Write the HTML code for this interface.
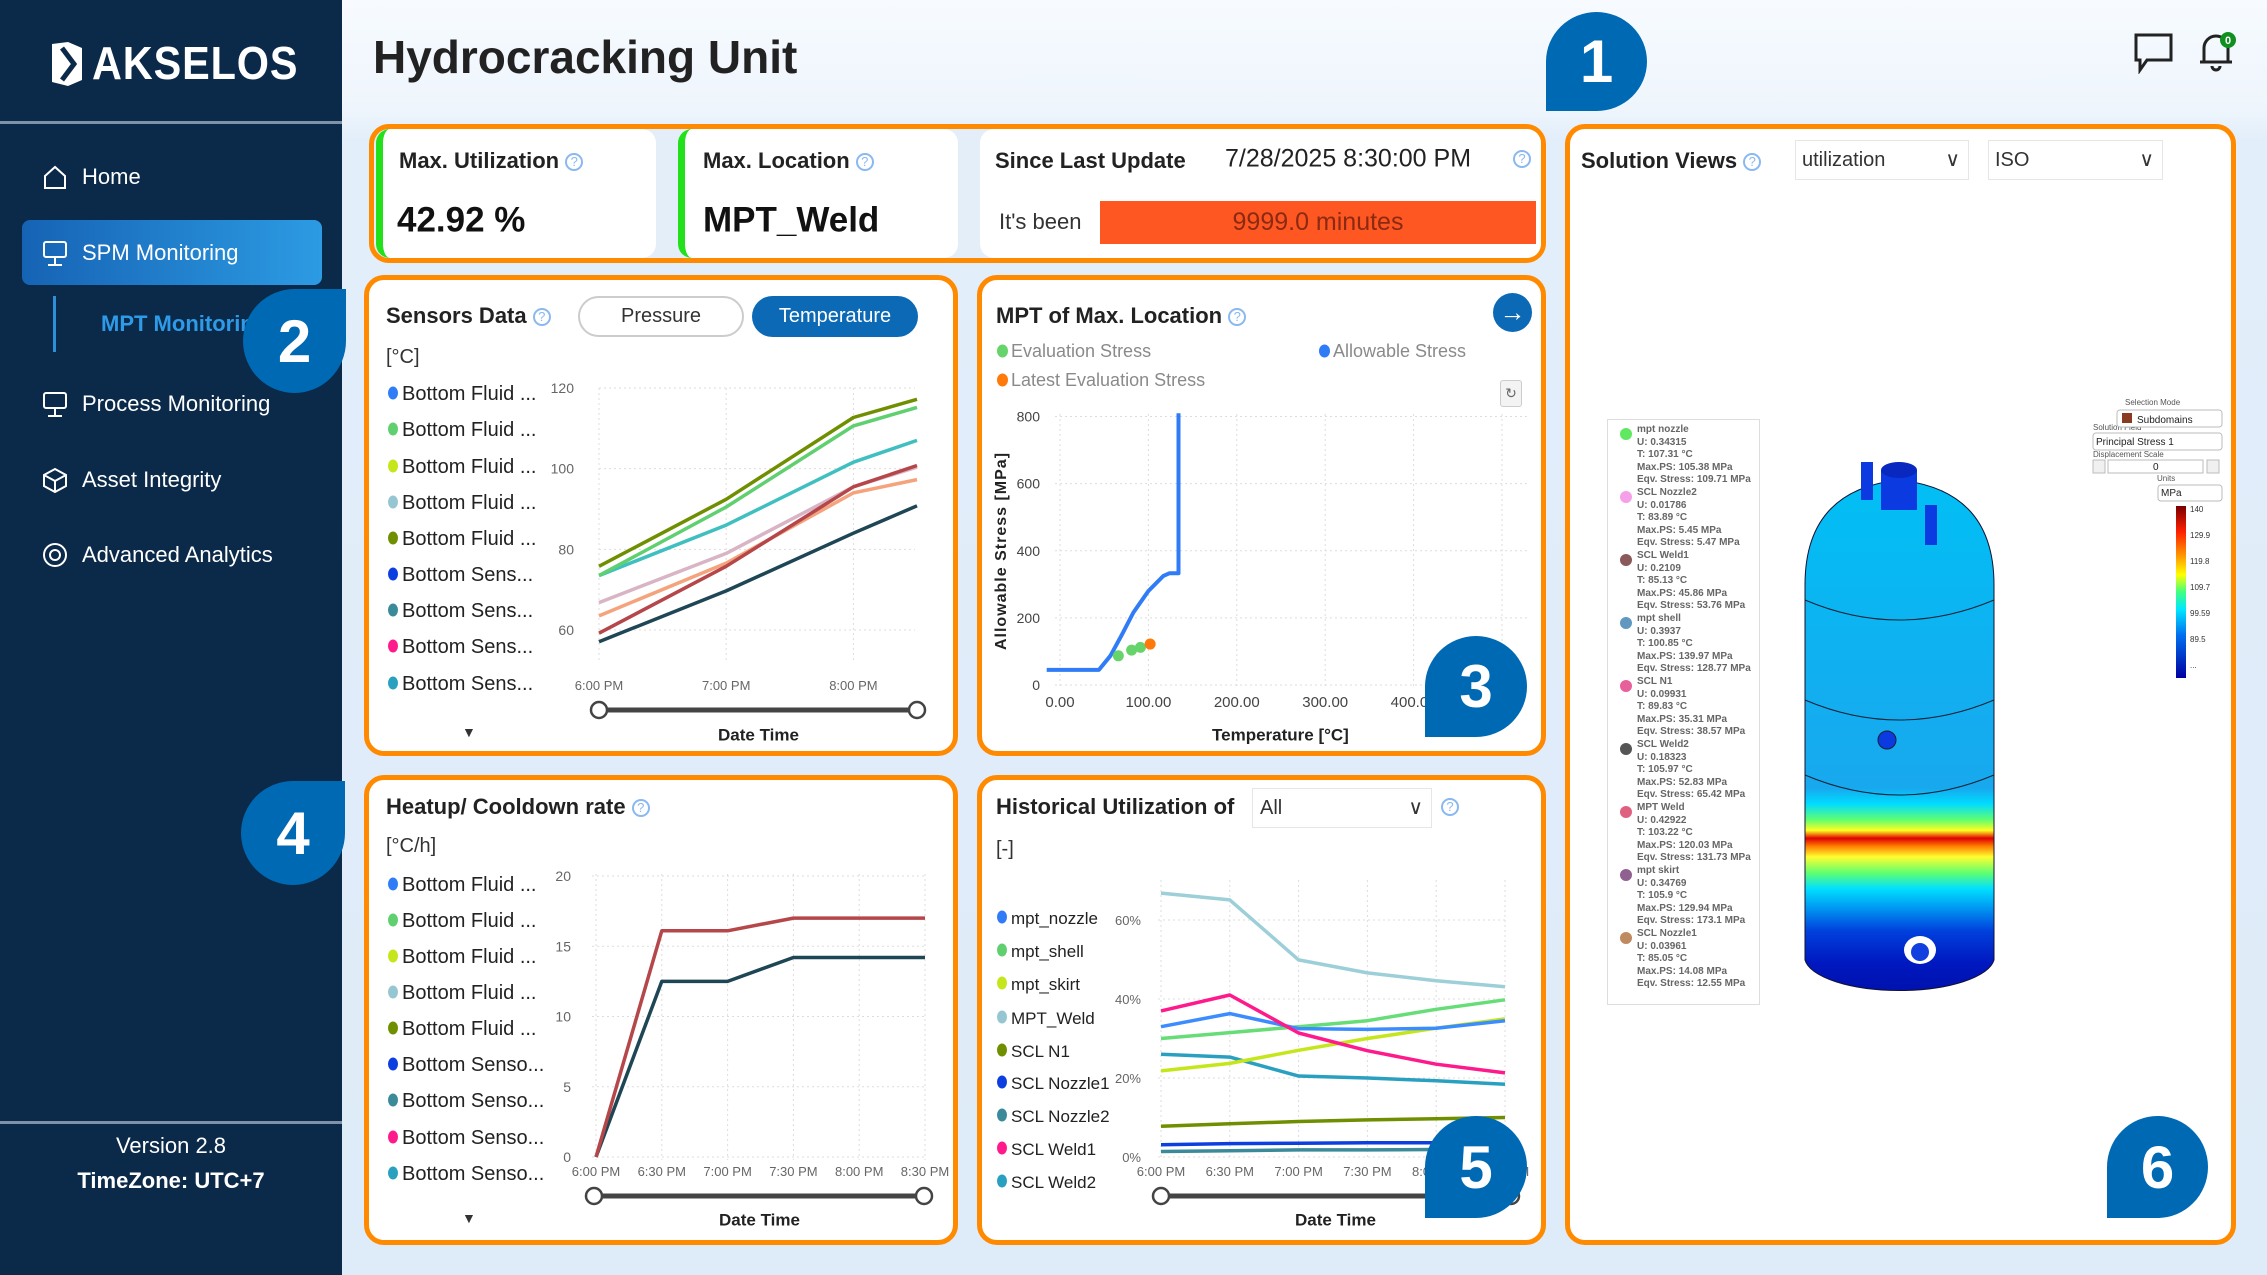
<!DOCTYPE html>
<html><head><meta charset="utf-8">
<style>
*{box-sizing:border-box;margin:0;padding:0}
body{width:2267px;height:1275px;position:relative;overflow:hidden;font-family:"Liberation Sans",sans-serif;background:linear-gradient(#f7fbff 0,#eef5fc 110px,#e2eefa 140px,#deebf8 100%)}
.t{position:absolute;white-space:nowrap;transform:translateY(-50%);line-height:1}
.b{font-weight:bold}
.abs{position:absolute}
.og{position:absolute;border:5px solid #ff8a00;border-radius:20px;background:#fff}
.q{display:inline-block;width:18px;height:18px;border:2px solid #8ab8f0;border-radius:50%;color:#8ab8f0;font-size:13px;text-align:center;line-height:14px;font-weight:normal;vertical-align:middle}
.dot{position:absolute;width:11px;height:13px;border-radius:50%;transform:translateY(-50%)}
.badge{position:absolute;background:#0069b4;color:#fff;font-weight:bold;font-size:60px;display:flex;align-items:center;justify-content:center}
.side{color:#fff;font-size:22px}
.lg{font-size:20px;color:#222}
.sel{position:absolute;border:1px solid #e6e6e6;background:#fff;font-size:20px;color:#333}
svg text{font-family:"Liberation Sans",sans-serif}
</style></head><body>

<!-- Sidebar -->
<div class="abs" style="left:0;top:0;width:342px;height:1275px;background:#0b2949"></div>
<div class="abs" style="left:0;top:121px;width:342px;height:3px;background:#7f92a8"></div>
<svg class="abs" style="left:48px;top:40px" width="40" height="48" viewBox="0 0 40 48"><path d="M4 4 L20 2 L34 8 L34 40 L20 46 L4 42 Z" fill="#fff"/><path d="M14 8 L26 24 L14 40" stroke="#0b2949" stroke-width="5" fill="none"/></svg>
<div class="t b" style="left:92px;top:63px;font-size:46px;color:#fff;letter-spacing:1px;transform:translateY(-50%) scaleX(0.9);transform-origin:left">AKSELOS</div>

<svg class="abs" style="left:42px;top:164px" width="26" height="26"><path d="M3 12 L13 3 L23 12 L23 24 L3 24 Z" stroke="#fff" stroke-width="2" fill="none"/></svg>
<div class="t side" style="left:82px;top:177px">Home</div>
<div class="abs" style="left:22px;top:220px;width:300px;height:65px;border-radius:8px;background:linear-gradient(90deg,#1663b4,#2c9be3)"></div>
<svg class="abs" style="left:42px;top:240px" width="26" height="28"><rect x="2" y="2" width="22" height="15" rx="2" stroke="#fff" stroke-width="2" fill="none"/><path d="M13 17 V25 M6 25 H20" stroke="#fff" stroke-width="2"/></svg>
<div class="t side" style="left:82px;top:253px">SPM Monitoring</div>
<div class="abs" style="left:53px;top:296px;width:3px;height:56px;background:#2c8fd8"></div>
<div class="t side b" style="left:101px;top:324px;color:#2e9be8">MPT Monitoring</div>
<svg class="abs" style="left:42px;top:391px" width="26" height="28"><rect x="2" y="2" width="22" height="15" rx="2" stroke="#fff" stroke-width="2" fill="none"/><path d="M13 17 V25 M6 25 H20" stroke="#fff" stroke-width="2"/></svg>
<div class="t side" style="left:82px;top:404px">Process Monitoring</div>
<svg class="abs" style="left:42px;top:467px" width="26" height="26"><path d="M13 2 L24 8 L24 19 L13 25 L2 19 L2 8 Z M2 8 L13 14 L24 8 M13 14 V25" stroke="#fff" stroke-width="2" fill="none"/></svg>
<div class="t side" style="left:82px;top:480px">Asset Integrity</div>
<svg class="abs" style="left:42px;top:542px" width="26" height="26"><circle cx="13" cy="13" r="11" stroke="#fff" stroke-width="2" fill="none"/><circle cx="13" cy="13" r="5" stroke="#fff" stroke-width="2" fill="none"/></svg>
<div class="t side" style="left:82px;top:555px">Advanced Analytics</div>
<div class="abs" style="left:0;top:1121px;width:342px;height:3px;background:#7f92a8"></div>
<div class="t" style="left:0;width:342px;text-align:center;top:1146px;font-size:22px;color:#fff">Version 2.8</div>
<div class="t b" style="left:0;width:342px;text-align:center;top:1181px;font-size:22px;color:#fff">TimeZone: UTC+7</div>

<!-- Header -->
<div class="t b" style="left:373px;top:57px;font-size:46px;color:#222">Hydrocracking Unit</div>
<svg class="abs" style="left:2133px;top:32px" width="42" height="42"><path d="M3 3 H38 V28 H14 L7 38 V28 H3 Z" stroke="#222" stroke-width="3" fill="none"/></svg>
<svg class="abs" style="left:2196px;top:28px" width="42" height="48"><path d="M8 34 V20 A12 12 0 0 1 32 20 V34 Z M4 34 H36 M16 38 A4 4 0 0 0 24 38" stroke="#222" stroke-width="3" fill="none"/><circle cx="32" cy="12" r="8" fill="#109020"/><text x="32" y="16" font-size="11" fill="#fff" text-anchor="middle" font-weight="bold">0</text></svg>

<!-- KPI group -->
<div class="og" style="left:369px;top:124px;width:1177px;height:139px;background:#e4eef9"></div>
<div class="abs" style="left:376px;top:129px;width:280px;height:129px;background:#fff;border-radius:14px;border-left:7px solid #22e01a"></div>
<div class="t b" style="left:399px;top:161px;font-size:22px;color:#222">Max. Utilization <span class="q">?</span></div>
<div class="t b" style="left:397px;top:220px;font-size:35px;color:#111">42.92 %</div>
<div class="abs" style="left:678px;top:129px;width:280px;height:129px;background:#fff;border-radius:14px;border-left:7px solid #22e01a"></div>
<div class="t b" style="left:703px;top:161px;font-size:22px;color:#222">Max. Location <span class="q">?</span></div>
<div class="t b" style="left:703px;top:220px;font-size:35px;color:#111">MPT_Weld</div>
<div class="abs" style="left:980px;top:129px;width:561px;height:129px;background:#fff;border-radius:14px"></div>
<div class="t b" style="left:995px;top:161px;font-size:22px;color:#222">Since Last Update</div>
<div class="t" style="left:1225px;top:159px;font-size:25px;color:#222">7/28/2025 8:30:00 PM</div>
<div class="t" style="left:1513px;top:159px"><span class="q">?</span></div>
<div class="t" style="left:999px;top:222px;font-size:22px;color:#333">It's been</div>
<div class="abs" style="left:1100px;top:201px;width:436px;height:43px;background:#ff5722;color:#8a2a12;font-size:25px;text-align:center;line-height:43px">9999.0 minutes</div>

<!-- Panels -->
<div class="og" style="left:364px;top:275px;width:594px;height:481px"></div>
<div class="og" style="left:977px;top:275px;width:569px;height:481px"></div>
<div class="og" style="left:364px;top:775px;width:594px;height:470px"></div>
<div class="og" style="left:977px;top:775px;width:569px;height:470px"></div>
<div class="og" style="left:1565px;top:124px;width:671px;height:1121px"></div>

<!-- Sensors panel content -->
<div class="t b" style="left:386px;top:316px;font-size:22px;color:#222">Sensors Data <span class="q">?</span></div>
<div class="abs" style="left:578px;top:296px;width:166px;height:41px;border:2px solid #ccc;border-radius:21px;font-size:20px;text-align:center;line-height:37px;color:#333">Pressure</div>
<div class="abs" style="left:752px;top:296px;width:166px;height:41px;background:#0b69b5;border-radius:21px;font-size:20px;text-align:center;line-height:41px;color:#fff">Temperature</div>
<div class="t" style="left:386px;top:357px;font-size:20px;color:#333">[°C]</div>
<div class="t" style="left:462px;top:732px;font-size:14px;color:#333">▼</div>
<div class="t b" style="left:718px;top:735px;font-size:17px;color:#222">Date Time</div>

<!-- MPT panel content -->
<div class="t b" style="left:996px;top:316px;font-size:22px;color:#222">MPT of Max. Location <span class="q">?</span></div>
<div class="abs" style="left:1493px;top:293px;width:39px;height:39px;border-radius:50%;background:#0b69b5;color:#fff;font-size:26px;text-align:center;line-height:38px;font-weight:bold">→</div>
<div class="dot" style="left:997px;top:351px;background:#66d46a"></div>
<div class="t" style="left:1011px;top:351px;font-size:18px;color:#8a8a8a">Evaluation Stress</div>
<div class="dot" style="left:1319px;top:351px;background:#2f7cf6"></div>
<div class="t" style="left:1333px;top:351px;font-size:18px;color:#8a8a8a">Allowable Stress</div>
<div class="dot" style="left:997px;top:380px;background:#ff7a0a"></div>
<div class="t" style="left:1011px;top:380px;font-size:18px;color:#8a8a8a">Latest Evaluation Stress</div>
<div class="abs" style="left:1500px;top:380px;width:22px;height:27px;border:1px solid #ccc;border-radius:3px;background:#f3f3f3;font-size:14px;text-align:center;line-height:25px;color:#666">↻</div>
<div class="t b" style="left:1212px;top:735px;font-size:17px;color:#222">Temperature [°C]</div>
<div class="abs b" style="left:1002px;top:551px;font-size:16px;color:#222;white-space:nowrap;transform:translate(-50%,-50%) rotate(-90deg);letter-spacing:1px">Allowable Stress [MPa]</div>

<!-- Heatup panel content -->
<div class="t b" style="left:386px;top:807px;font-size:22px;color:#222">Heatup/ Cooldown rate <span class="q">?</span></div>
<div class="t" style="left:386px;top:846px;font-size:20px;color:#333">[°C/h]</div>
<div class="t" style="left:462px;top:1218px;font-size:14px;color:#333">▼</div>
<div class="t b" style="left:719px;top:1220px;font-size:17px;color:#222">Date Time</div>

<!-- Historical panel content -->
<div class="t b" style="left:996px;top:807px;font-size:22px;color:#222">Historical Utilization of</div>
<div class="sel" style="left:1252px;top:788px;width:180px;height:40px;line-height:38px;padding-left:7px">All<span style="position:absolute;right:8px;top:0;font-size:20px">∨</span></div>
<div class="t" style="left:1441px;top:807px"><span class="q">?</span></div>
<div class="t" style="left:996px;top:849px;font-size:20px;color:#333">[-]</div>
<div class="t b" style="left:1295px;top:1220px;font-size:17px;color:#222">Date Time</div>

<!-- Solution views -->
<div class="t b" style="left:1581px;top:161px;font-size:22px;color:#222">Solution Views <span class="q">?</span></div>
<div class="sel" style="left:1795px;top:140px;width:174px;height:40px;line-height:38px;padding-left:6px">utilization<span style="position:absolute;right:8px;top:0">∨</span></div>
<div class="sel" style="left:1988px;top:140px;width:175px;height:40px;line-height:38px;padding-left:6px">ISO<span style="position:absolute;right:8px;top:0">∨</span></div>

<div class="abs" style="left:1607px;top:419px;width:153px;height:586px;border:1px solid #ddd;background:#fff;font-size:10px;font-weight:bold;color:#666;line-height:12.6px">
<div style="position:absolute;left:12px;top:8px;width:12px;height:12px;border-radius:50%;background:#5fe860"></div><div style="position:absolute;left:29px;top:4px">mpt nozzle<br>U: 0.34315<br>T: 107.31 °C<br>Max.PS: 105.38 MPa<br>Eqv. Stress: 109.71 MPa</div>
<div style="position:absolute;left:12px;top:71px;width:12px;height:12px;border-radius:50%;background:#f5a0e8"></div><div style="position:absolute;left:29px;top:67px">SCL Nozzle2<br>U: 0.01786<br>T: 83.89 °C<br>Max.PS: 5.45 MPa<br>Eqv. Stress: 5.47 MPa</div>
<div style="position:absolute;left:12px;top:134px;width:12px;height:12px;border-radius:50%;background:#8a5a5a"></div><div style="position:absolute;left:29px;top:130px">SCL Weld1<br>U: 0.2109<br>T: 85.13 °C<br>Max.PS: 45.86 MPa<br>Eqv. Stress: 53.76 MPa</div>
<div style="position:absolute;left:12px;top:197px;width:12px;height:12px;border-radius:50%;background:#6098c0"></div><div style="position:absolute;left:29px;top:193px">mpt shell<br>U: 0.3937<br>T: 100.85 °C<br>Max.PS: 139.97 MPa<br>Eqv. Stress: 128.77 MPa</div>
<div style="position:absolute;left:12px;top:260px;width:12px;height:12px;border-radius:50%;background:#e8609a"></div><div style="position:absolute;left:29px;top:256px">SCL N1<br>U: 0.09931<br>T: 89.83 °C<br>Max.PS: 35.31 MPa<br>Eqv. Stress: 38.57 MPa</div>
<div style="position:absolute;left:12px;top:323px;width:12px;height:12px;border-radius:50%;background:#555"></div><div style="position:absolute;left:29px;top:319px">SCL Weld2<br>U: 0.18323<br>T: 105.97 °C<br>Max.PS: 52.83 MPa<br>Eqv. Stress: 65.42 MPa</div>
<div style="position:absolute;left:12px;top:386px;width:12px;height:12px;border-radius:50%;background:#e06080"></div><div style="position:absolute;left:29px;top:382px">MPT Weld<br>U: 0.42922<br>T: 103.22 °C<br>Max.PS: 120.03 MPa<br>Eqv. Stress: 131.73 MPa</div>
<div style="position:absolute;left:12px;top:449px;width:12px;height:12px;border-radius:50%;background:#906090"></div><div style="position:absolute;left:29px;top:445px">mpt skirt<br>U: 0.34769<br>T: 105.9 °C<br>Max.PS: 129.94 MPa<br>Eqv. Stress: 173.1 MPa</div>
<div style="position:absolute;left:12px;top:512px;width:12px;height:12px;border-radius:50%;background:#c08a60"></div><div style="position:absolute;left:29px;top:508px">SCL Nozzle1<br>U: 0.03961<br>T: 85.05 °C<br>Max.PS: 14.08 MPa<br>Eqv. Stress: 12.55 MPa</div>
</div>

<svg class="abs" style="left:1565px;top:124px" width="671" height="1121" viewBox="1565 124 671 1121">
<defs><linearGradient id="vg" gradientUnits="userSpaceOnUse" x1="0" y1="470" x2="0" y2="1000">
<stop offset="0" stop-color="#00c0f4"/><stop offset="0.42" stop-color="#12aef0"/><stop offset="0.6" stop-color="#18a8ee"/><stop offset="0.63" stop-color="#00dcff"/><stop offset="0.66" stop-color="#60ff70"/><stop offset="0.68" stop-color="#ffff20"/><stop offset="0.695" stop-color="#e00000"/><stop offset="0.71" stop-color="#ff8000"/><stop offset="0.73" stop-color="#ffff30"/><stop offset="0.76" stop-color="#60ff70"/><stop offset="0.79" stop-color="#00e0ff"/><stop offset="0.83" stop-color="#0090f0"/><stop offset="0.87" stop-color="#0040dc"/><stop offset="0.93" stop-color="#0018c0"/><stop offset="1" stop-color="#0010a8"/></linearGradient></defs>
<path d="M1805 585 Q1805 490 1899 480 Q1994 490 1994 585 L1994 960 A95 34 0 0 1 1805 960 Z" fill="url(#vg)" stroke="#113" stroke-width="1"/>
<path d="M1805 600 Q1899 640 1994 600 M1805 700 Q1899 740 1994 700 M1805 775 Q1899 815 1994 775" stroke="#123" stroke-width="1" fill="none"/>
<rect x="1881" y="470" width="36" height="40" fill="#0a3ae0"/><ellipse cx="1899" cy="470" rx="18" ry="8" fill="#0828c0"/>
<rect x="1861" y="462" width="12" height="38" fill="#0a3ae0"/>
<rect x="1925" y="505" width="12" height="40" fill="#0a3ae0"/>
<circle cx="1887" cy="740" r="9" fill="#0a3ae0" stroke="#123"/>
<ellipse cx="1920" cy="950" rx="16" ry="14" fill="#fff"/><circle cx="1920" cy="952" r="9" fill="#1240e0"/>
<g font-size="8" fill="#555"><text x="2125" y="405">Selection Mode</text><text x="2093" y="430">Solution Field</text><text x="2093" y="457">Displacement Scale</text><text x="2157" y="481">Units</text></g>
<rect x="2117" y="410" width="105" height="17" rx="3" fill="#fff" stroke="#bbb"/><rect x="2122" y="413" width="10" height="10" fill="#8a3a20"/><text x="2137" y="423" font-size="10" fill="#222">Subdomains</text>
<rect x="2093" y="433" width="129" height="17" rx="3" fill="#fff" stroke="#bbb"/><text x="2096" y="445" font-size="10" fill="#222">Principal Stress 1</text>
<rect x="2093" y="460" width="12" height="13" fill="#f0f0f0" stroke="#bbb"/><rect x="2108" y="460" width="95" height="13" fill="#fff" stroke="#bbb"/><text x="2153" y="470" font-size="10" fill="#222">0</text><rect x="2207" y="460" width="12" height="13" fill="#f0f0f0" stroke="#bbb"/>
<rect x="2158" y="485" width="64" height="16" rx="3" fill="#fff" stroke="#bbb"/><text x="2161" y="496" font-size="10" fill="#222">MPa</text>
<defs><linearGradient id="cb" x1="0" y1="0" x2="0" y2="1"><stop offset="0" stop-color="#7a0000"/><stop offset="0.15" stop-color="#ff2000"/><stop offset="0.3" stop-color="#ffa000"/><stop offset="0.4" stop-color="#ffff00"/><stop offset="0.5" stop-color="#40ff80"/><stop offset="0.6" stop-color="#00e8ff"/><stop offset="0.75" stop-color="#0070f0"/><stop offset="1" stop-color="#0000a0"/></linearGradient></defs>
<rect x="2176" y="506" width="10" height="172" fill="url(#cb)"/>
<g font-size="8" fill="#333"><text x="2190" y="512">140</text><text x="2190" y="538">129.9</text><text x="2190" y="564">119.8</text><text x="2190" y="590">109.7</text><text x="2190" y="616">99.59</text><text x="2190" y="642">89.5</text><text x="2190" y="668">...</text></g>
</svg>

<!-- Chart SVG overlay -->
<svg id="charts" class="abs" style="left:0;top:0" width="2267" height="1275"></svg>

<!-- Badges -->
<div class="badge" style="left:1546px;top:12px;width:101px;height:99px;border-radius:50% 50% 50% 0">1</div>
<div class="badge" style="left:243px;top:289px;width:103px;height:104px;border-radius:50% 0 50% 50%">2</div>
<div class="badge" style="left:1425px;top:636px;width:102px;height:101px;border-radius:50% 50% 50% 0">3</div>
<div class="badge" style="left:241px;top:781px;width:104px;height:104px;border-radius:50% 0 50% 50%">4</div>
<div class="badge" style="left:1425px;top:1116px;width:102px;height:102px;border-radius:50% 50% 50% 0">5</div>
<div class="badge" style="left:2107px;top:1116px;width:101px;height:102px;border-radius:50% 50% 50% 0">6</div>

<script>
// ---------- Sensors data (hours after 6:00 PM) ----------
const sensorTimes=[0,1,2,2.5];
const sensorYTicks=[60,80,100,120];
const sensorXTickHours=[0,1,2];
const sensorXTickLabels=["6:00 PM","7:00 PM","8:00 PM"];
const sensorLegend=["Bottom Fluid ...","Bottom Fluid ...","Bottom Fluid ...","Bottom Fluid ...","Bottom Fluid ...","Bottom Sens...","Bottom Sens...","Bottom Sens...","Bottom Sens..."];
const legendColors=["#2f7cf6","#5fcf70","#c5e61a","#95c6d2","#6f8f00","#0d3fe0","#3a8a9a","#ff1a8c","#2aa0c0"];
const sensorOlive=[75.8,92.4,112.7,117.2];
const sensorGreen=[73.5,90.5,110.6,115.2];
const sensorTeal=[73.5,86,101.6,107];
const sensorLavender=[66.8,79,95.5,100.4];
const sensorSalmon=[63.5,76.6,94,97.3];
const sensorRed=[59.2,75.8,95.5,100.8];
const sensorNavy=[57.1,69.7,84,90.8];
// ---------- MPT data ----------
const allowTemp=[-15,44,57,70,83,100,117,124,134,134];
const allowStress=[45,45,87,150,216,280,325,333,333,810];
const evalTemp=[66,81,91];
const evalStress=[87,104,112];
const latestTemp=[102];
const latestStress=[122];
const mptYTicks=[0,200,400,600,800];
const mptXTicks=[0,100,200,300,400];
const mptXTickLabels=["0.00","100.00","200.00","300.00","400.00"];
// ---------- Heatup data ----------
const heatTimes=[0,0.5,1,1.5,2,2.5];
const heatRed=[0,16.1,16.1,17,17,17];
const heatNavy=[0,12.5,12.5,14.2,14.2,14.2];
const heatYTicks=[0,5,10,15,20];
const halfHourLabels=["6:00 PM","6:30 PM","7:00 PM","7:30 PM","8:00 PM","8:30 PM"];
const heatLegend=["Bottom Fluid ...","Bottom Fluid ...","Bottom Fluid ...","Bottom Fluid ...","Bottom Fluid ...","Bottom Senso...","Bottom Senso...","Bottom Senso...","Bottom Senso..."];
// ---------- Historical utilization (%) ----------
const histTimes=[0,0.5,1,1.5,2,2.5];
const histNames=["mpt_nozzle","mpt_shell","mpt_skirt","MPT_Weld","SCL N1","SCL Nozzle1","SCL Nozzle2","SCL Weld1","SCL Weld2"];
const histNozzle=[33,36.3,32.5,32.3,32.6,34.5];
const histShell=[30,31.5,33,34.5,37.4,39.8];
const histSkirt=[21.8,23.7,27,30,32.6,35];
const histWeld=[66.8,65.1,49.9,46.6,44.6,43.1];
const histN1=[7.8,8.4,9,9.4,9.7,10];
const histNozzle1=[3.1,3.4,3.5,3.6,3.6,3.6];
const histNozzle2=[1.4,1.6,1.8,1.8,1.9,2];
const histWeld1=[37,41,31.4,26.9,23.5,21.3];
const histWeld2=[26,25.3,20.5,20,19.3,18.4];
const histYTicks=[0,20,40,60];

const NS="http://www.w3.org/2000/svg";
const svg=document.getElementById('charts');
function mk(tag,attrs,parent){const e=document.createElementNS(NS,tag);for(const k in attrs)e.setAttribute(k,attrs[k]);(parent||svg).appendChild(e);return e;}
function txt(x,y,s,size,color,anchor,parent){const e=mk('text',{x:x,y:y,'font-size':size,fill:color,'text-anchor':anchor||'start'},parent);e.textContent=s;return e;}
function pathD(xs,ys,fx,fy){return xs.map((v,i)=>(i?'L':'M')+fx(v).toFixed(1)+' '+fy(ys[i]).toFixed(1)).join(' ');}
function line(xs,ys,fx,fy,color,w,name){const p=mk('path',{d:pathD(xs,ys,fx,fy),stroke:color,'stroke-width':w,fill:'none','stroke-linejoin':'round'});


return p;}
function hgrid(y,x1,x2){mk('line',{x1:x1,x2:x2,y1:y,y2:y,stroke:'#ddd','stroke-dasharray':'2 3'});}
function vgrid(x,y1,y2){mk('line',{x1:x,x2:x,y1:y1,y2:y2,stroke:'#ddd','stroke-dasharray':'2 3'});}
function slider(x1,x2,y){const g=mk('g',{});


mk('line',{x1:x1,x2:x2,y1:y,y2:y,stroke:'#444','stroke-width':5},g);
mk('circle',{cx:x1,cy:y,r:8,fill:'#fff',stroke:'#444','stroke-width':2.5},g);
mk('circle',{cx:x2,cy:y,r:8,fill:'#fff',stroke:'#444','stroke-width':2.5},g);}
function legend(names,colors,x,ys,size){names.forEach((n,i)=>{const g=mk('g',{});


mk('ellipse',{cx:x,cy:ys[i],rx:5,ry:6.5,fill:colors[i]},g);txt(x+9,ys[i]+7,n,size,'#222','start',g);});}

// Sensors chart
(function(){
 const fx=h=>599+h*127.2, fy=v=>630-(v-60)*4.033;
 sensorYTicks.forEach(v=>{hgrid(fy(v),599,915);txt(574,fy(v)+5,String(v),14,'#666','end');});
 sensorXTickHours.forEach((h,i)=>{vgrid(fx(h),388,660);txt(fx(h),690,sensorXTickLabels[i],13,'#666','middle');});
 line(sensorTimes,sensorNavy,fx,fy,'#1e4654',3.5,'series-bottom-sensor-navy');
 line(sensorTimes,sensorSalmon,fx,fy,'#f4a37c',3.5,'series-bottom-sensor-salmon');
 line(sensorTimes,sensorLavender,fx,fy,'#d8b4c4',3.5,'series-bottom-sensor-lavender');
 line(sensorTimes,sensorRed,fx,fy,'#b5474a',3.5,'series-bottom-sensor-red');
 line(sensorTimes,sensorTeal,fx,fy,'#3fbfbf',3.5,'series-bottom-fluid-teal');
 line(sensorTimes,sensorGreen,fx,fy,'#5fcf70',3.5,'series-bottom-fluid-green');
 line(sensorTimes,sensorOlive,fx,fy,'#6f8f00',3.5,'series-bottom-fluid-olive');
 slider(599,917,710);
 legend(sensorLegend,legendColors,393,[393,429,466,502,538,574,610,646,683],20);
})();

// MPT chart
(function(){
 const fx=t=>1060+t*0.884, fy=v=>685-v*0.3356;
 mptYTicks.forEach(v=>{hgrid(fy(v),1055,1528);txt(1040,fy(v)+5,String(v),14,'#444','end');});
 mptXTicks.forEach((t,i)=>{vgrid(fx(t),414,688);txt(fx(t),707,mptXTickLabels[i],15,'#444','middle');});
 vgrid(1502,414,688);
 line(allowTemp,allowStress,fx,fy,'#2f7cf6',4,'allowable-stress-line');
 evalTemp.forEach((t,i)=>{const c=mk('circle',{cx:fx(t),cy:fy(evalStress[i]),r:5.5,fill:'#66d46a'});
 
 });
 latestTemp.forEach((t,i)=>{const c=mk('circle',{cx:fx(t),cy:fy(latestStress[i]),r:5.5,fill:'#ff7a0a'});
 
 });
})();

// Heatup chart
(function(){
 const fx=h=>596+h*131.6, fy=v=>1157-v*14.05;
 heatYTicks.forEach(v=>{hgrid(fy(v),592,925);txt(571,fy(v)+5,String(v),14,'#666','end');});
 heatTimes.forEach((h,i)=>{vgrid(fx(h),874,1160);txt(fx(h),1176,halfHourLabels[i],13,'#666','middle');});
 line(heatTimes,heatNavy,fx,fy,'#1e4654',3.5,'heatup-series-navy');
 line(heatTimes,heatRed,fx,fy,'#b5474a',3.5,'heatup-series-red');
 slider(594,924,1196);
 legend(heatLegend,legendColors,393,[884,920,956,992,1028,1064,1100,1137,1173],20);
})();

// Historical chart
(function(){
 const fx=h=>1161+h*137.6, fy=v=>1157-v*3.95;
 histYTicks.forEach(v=>{hgrid(fy(v),1158,1508);txt(1141,fy(v)+5,v+'%',13,'#666','end');});
 histTimes.forEach((h,i)=>{vgrid(fx(h),880,1160);txt(fx(h),1176,halfHourLabels[i],13,'#666','middle');});
 line(histTimes,histNozzle2,fx,fy,'#3a8a9a',3.5,'hist-scl-nozzle2');
 line(histTimes,histNozzle1,fx,fy,'#0d3fe0',3.5,'hist-scl-nozzle1');
 line(histTimes,histN1,fx,fy,'#6f8f00',3.5,'hist-scl-n1');
 line(histTimes,histWeld2,fx,fy,'#2aa0c0',3.5,'hist-scl-weld2');
 line(histTimes,histSkirt,fx,fy,'#c5e61a',3.5,'hist-mpt-skirt');
 line(histTimes,histShell,fx,fy,'#66dd77',3.5,'hist-mpt-shell');
 line(histTimes,histNozzle,fx,fy,'#3b8cff',3.5,'hist-mpt-nozzle');
 line(histTimes,histWeld1,fx,fy,'#ff1a8c',3.5,'hist-scl-weld1');
 line(histTimes,histWeld,fx,fy,'#9ccfd8',3.5,'hist-mpt-weld');
 slider(1161,1511,1196);
 legend(histNames,legendColors,1002,[917,950,983,1017,1050,1082,1115,1148,1181],17);
})();
</script>
</body></html>
